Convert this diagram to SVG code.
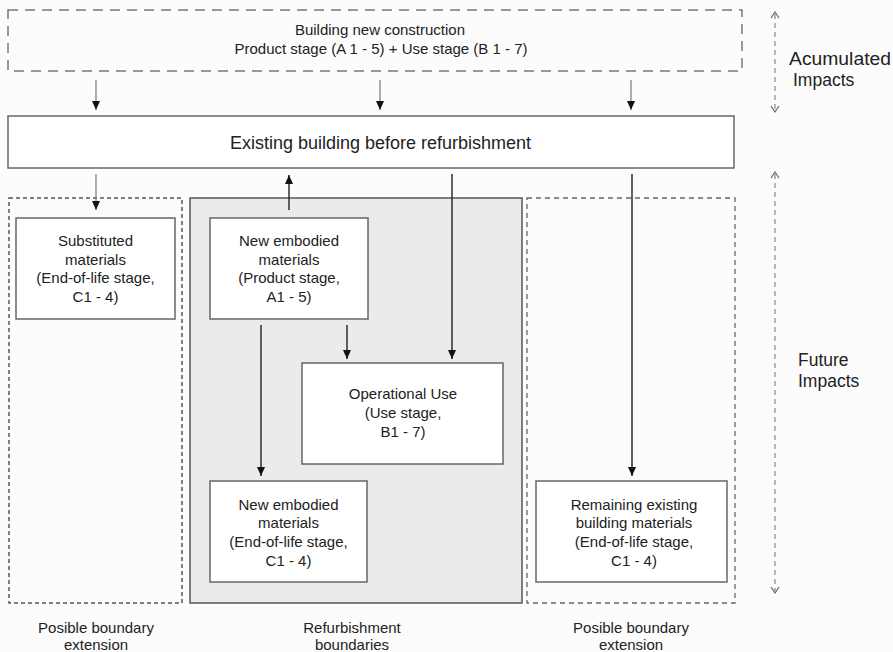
<svg xmlns="http://www.w3.org/2000/svg" width="893" height="652" viewBox="0 0 893 652">
  <style>
    text { font-family: "Liberation Sans", Arial, sans-serif; font-size: 15px; fill: #222; text-anchor: middle; }
    .big { font-size: 18px; }
    .side { font-size: 17.5px; text-anchor: start; }
    .box { fill: #fff; stroke: #666; stroke-width: 1.5; }
    .zone { fill: none; stroke: #666; stroke-width: 1.3; stroke-dasharray: 5 4; }
    .zoneL { fill: none; stroke: #555; stroke-width: 1.5; stroke-dasharray: 4 3; }
    .zoneT { fill: none; stroke: #777; stroke-width: 1.5; stroke-dasharray: 10 7; }
    .refurb { fill: #ebebeb; stroke: #555; stroke-width: 1.5; }
    .flow { stroke: #222; stroke-width: 1.4; fill: none; marker-end: url(#head); }
    .flowG { stroke: #777; stroke-width: 1.2; fill: none; marker-end: url(#head); }
    .scale { stroke: #888; stroke-width: 1.2; fill: none; stroke-dasharray: 5 4; }
    .chev { stroke: #666; stroke-width: 1.2; fill: none; }
  </style>
  <defs>
    <marker id="head" markerWidth="10" markerHeight="10" refX="9" refY="5" orient="auto" markerUnits="userSpaceOnUse">
      <path d="M0,1 L9,5 L0,9 Z" fill="#111"/>
    </marker>
  </defs>
  <rect width="893" height="652" fill="#fcfcfc"/>

  <!-- boundary zones -->
  <g id="zone-left"><rect class="zoneL" x="9" y="198" width="173" height="405"/></g>
  <g id="zone-refurbishment"><rect class="refurb" x="190" y="198" width="332" height="405"/></g>
  <g id="zone-right"><rect class="zone" x="527" y="198" width="208" height="405"/></g>

  <g id="new-construction">
    <rect class="zoneT" x="8" y="10" width="734" height="61"/>
    <text x="380" y="35">Building new construction</text>
    <text x="381" y="54">Product stage (A 1 - 5) + Use stage (B 1 - 7)</text>
  </g>

  <g id="existing-building">
    <rect class="box" x="8" y="116" width="726" height="52"/>
    <text class="big" x="380.5" y="149">Existing building before refurbishment</text>
  </g>

  <g id="substituted">
    <rect class="box" x="16" y="218" width="159" height="101"/>
    <text x="95.5" y="246">Substituted</text>
    <text x="95.5" y="265">materials</text>
    <text x="95.5" y="283">(End-of-life stage,</text>
    <text x="95.5" y="302">C1 - 4)</text>
  </g>

  <g id="new-embodied-product">
    <rect class="box" x="210" y="218" width="158" height="101"/>
    <text x="289" y="246">New embodied</text>
    <text x="289" y="265">materials</text>
    <text x="289" y="283">(Product stage,</text>
    <text x="289" y="302">A1 - 5)</text>
  </g>

  <g id="operational-use">
    <rect class="box" x="302" y="363" width="201" height="101"/>
    <text x="403" y="399">Operational Use</text>
    <text x="403" y="418">(Use stage,</text>
    <text x="403" y="437">B1 - 7)</text>
  </g>

  <g id="new-embodied-eol">
    <rect class="box" x="210" y="481" width="157" height="101"/>
    <text x="288.5" y="510">New embodied</text>
    <text x="288.5" y="528">materials</text>
    <text x="288.5" y="547">(End-of-life stage,</text>
    <text x="288.5" y="566">C1 - 4)</text>
  </g>

  <g id="remaining-materials">
    <rect class="box" x="536" y="481" width="191" height="101"/>
    <text x="634" y="510">Remaining existing</text>
    <text x="634" y="528">building materials</text>
    <text x="634" y="547">(End-of-life stage,</text>
    <text x="634" y="566">C1 - 4)</text>
  </g>

  <!-- connectors -->
  <g id="connectors">
    <line class="flowG" x1="96" y1="80" x2="96" y2="110"/>
    <line class="flowG" x1="380" y1="80" x2="380" y2="110"/>
    <line class="flowG" x1="631" y1="80" x2="631" y2="110"/>
    <line class="flowG" x1="96" y1="174" x2="96" y2="210"/>
    <line class="flow" x1="289" y1="210" x2="289" y2="175"/>
    <line class="flow" x1="452" y1="174" x2="452" y2="359"/>
    <line class="flow" x1="347" y1="325" x2="347" y2="359"/>
    <line class="flow" x1="261" y1="325" x2="261" y2="476"/>
    <line class="flow" x1="632" y1="174" x2="632" y2="476"/>
  </g>

  <!-- impact scales -->
  <g id="scale-accumulated">
    <line class="scale" x1="775" y1="14" x2="775" y2="110"/>
    <path class="chev" d="M771,18 L775,12 L779,18 M771,106 L775,112 L779,106"/>
    <text class="side" x="789" y="65" textLength="102" lengthAdjust="spacingAndGlyphs">Acumulated</text>
    <text class="side" x="793" y="86">Impacts</text>
  </g>
  <g id="scale-future">
    <line class="scale" x1="775" y1="174" x2="775" y2="591"/>
    <path class="chev" d="M771,178 L775,172 L779,178 M771,587 L775,593 L779,587"/>
    <text class="side" x="798" y="366">Future</text>
    <text class="side" x="798" y="387">Impacts</text>
  </g>

  <g id="zone-labels">
    <text x="96" y="633">Posible boundary</text>
    <text x="96" y="650">extension</text>
    <text x="352" y="633">Refurbishment</text>
    <text x="352" y="650">boundaries</text>
    <text x="631" y="633">Posible boundary</text>
    <text x="631" y="650">extension</text>
  </g>
</svg>
